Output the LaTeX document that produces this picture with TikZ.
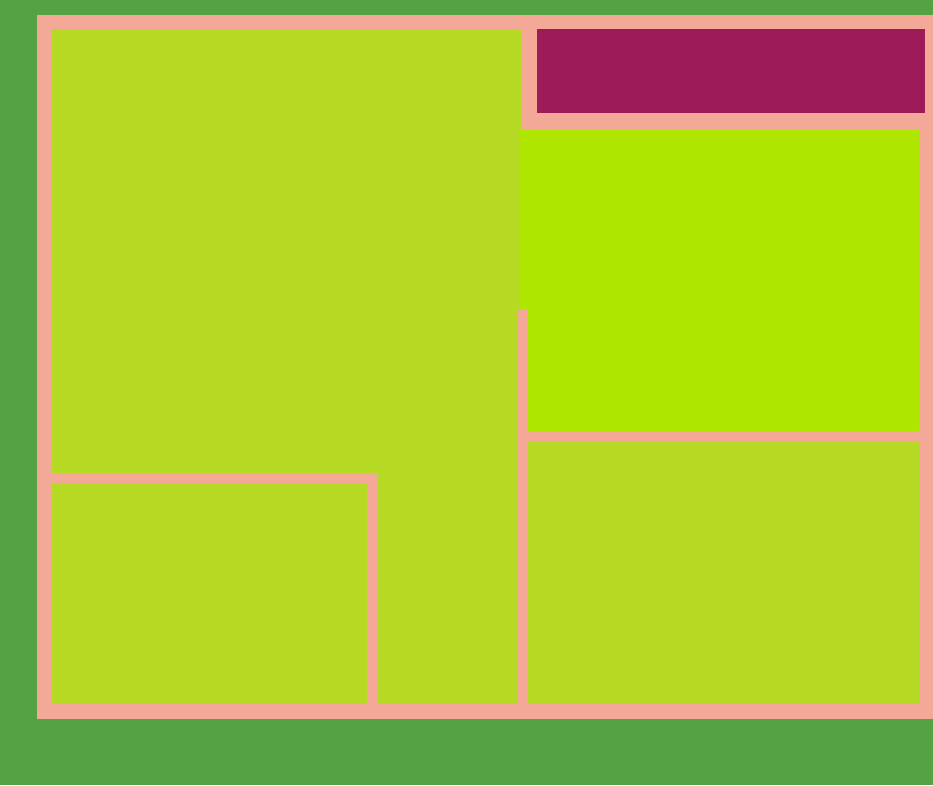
\documentclass[tikz,border=0pt]{standalone}
\usepackage{tikz}
\definecolor{lawn}{HTML}{55A244}
\definecolor{wall}{HTML}{F4A898}
\definecolor{room}{HTML}{B6D924}
\definecolor{brightroom}{HTML}{AEE600}
\definecolor{porch}{HTML}{9E1B5A}
\begin{document}
\begin{tikzpicture}[x=0.02cm,y=-0.02cm,
  roomfill/.style={fill=room},
  brightfill/.style={fill=brightroom}]
% Ground
\fill[lawn] (0,0) rectangle (933,785);
\useasboundingbox (0,0) rectangle (933,785);
% Outer walls
\fill[wall] (37,15) rectangle (933,719);
% Large room (L shape)
\fill[roomfill] (52,29) rectangle (521,310);
\fill[roomfill] (52,310) rectangle (517,473);
\fill[roomfill] (378,473) rectangle (517,704);
% Bottom-left room
\fill[roomfill] (52,483) rectangle (367,704);
% Top-right strip
\fill[porch] (537,29) rectangle (925,113);
% Bright room
\fill[brightfill] (520,130) rectangle (919,310);
\fill[brightfill] (528,310) rectangle (919,431);
% Bottom-right room
\fill[roomfill] (528,441) rectangle (920,704);
\end{tikzpicture}
\end{document}
